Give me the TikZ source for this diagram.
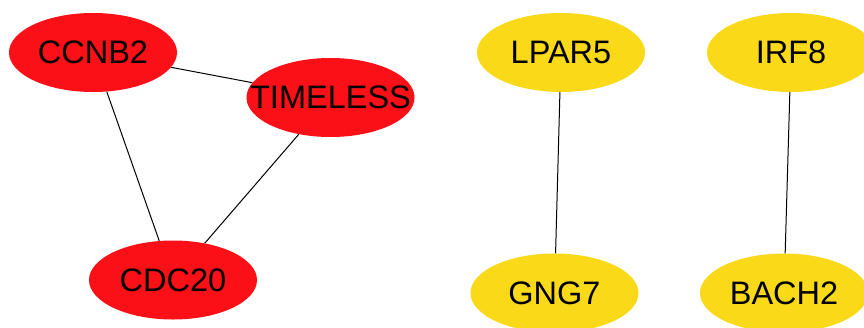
\documentclass[tikz,border=0pt]{standalone}
\usepackage{fontspec}
\setmainfont{Liberation Sans}
\usetikzlibrary{shapes.geometric}
\definecolor{nodered}{RGB}{250,16,22}
\definecolor{nodeyellow}{RGB}{250,218,24}
\tikzset{
  gene/.style={ellipse, draw=none, minimum width=168pt, minimum height=79pt, inner sep=0pt},
  redgene/.style={gene, fill=nodered},
  yellowgene/.style={gene, fill=nodeyellow},
  genetext/.style={font=\fontsize{32.5}{36}\selectfont, text=black},
  link/.style={draw=black, line width=1pt}
}
\begin{document}
\begin{tikzpicture}[x=1pt, y=-1pt]
  \clip (0,0) rectangle (864,327);
  \fill[white] (0,0) rectangle (864,327);
  % gene nodes
  \node[redgene] (ccnb2) at (93,52.5) {};
  \node[redgene] (timeless) at (330.5,97.5) {};
  \node[redgene] (cdc20) at (173,280) {};
  \node[yellowgene] (lpar5) at (561,52.5) {};
  \node[yellowgene] (irf8) at (791,52.5) {};
  \node[yellowgene] (gng7) at (554.5,293) {};
  \node[yellowgene] (bach2) at (784,293) {};
  % interactions
  \draw[link] (ccnb2) -- (timeless);
  \draw[link] (ccnb2) -- (cdc20);
  \draw[link] (timeless) -- (cdc20);
  \draw[link] (lpar5) -- (gng7);
  \draw[link] (irf8) -- (bach2);
  % labels
  \node[genetext] (ccnb2t) at (ccnb2.center) {CCNB2};
  \node[genetext] (timelesst) at (timeless.center) {TIMELESS};
  \node[genetext] (cdc20t) at (cdc20.center) {CDC20};
  \node[genetext] (lpar5t) at (lpar5.center) {LPAR5};
  \node[genetext] (irf8t) at (irf8.center) {IRF8};
  \node[genetext] (gng7t) at (gng7.center) {GNG7};
  \node[genetext] (bach2t) at (bach2.center) {BACH2};
\end{tikzpicture}
\end{document}
